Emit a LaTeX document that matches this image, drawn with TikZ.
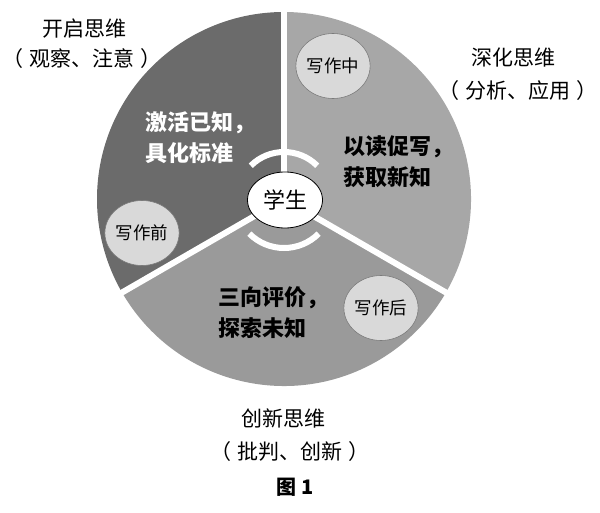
\documentclass[tikz,border=0pt]{standalone}
\usepackage{fontspec}
\setmainfont{Noto Sans CJK SC}
\usetikzlibrary{shapes.geometric,calc}
\definecolor{darksec}{HTML}{6B6B6B}
\definecolor{rightsec}{HTML}{A7A7A7}
\definecolor{botsec}{HTML}{9A9A9A}
\definecolor{smallfill}{HTML}{D9D9D9}
\definecolor{smalledge}{HTML}{7A7A7A}
\newcommand{\pl}{（\hspace{6pt}}
\newcommand{\pr}{\hspace{6pt}）}
\begin{document}
\begin{tikzpicture}[x=1pt,y=1pt,
  divider/.style={white,line width=6pt},
  turnarc/.style={white,line width=6pt},
  stagebox/.style={ellipse,fill=smallfill,draw=smalledge,line width=0.6pt,minimum width=71pt,minimum height=65pt,inner sep=0pt,font=\fontsize{17.5}{20}\selectfont},
  lbl/.style={font=\fontsize{21}{24}\selectfont,inner sep=0pt},
  inner/.style={font=\fontsize{22}{31}\selectfont\bfseries,align=left,inner sep=0pt,anchor=west}]
\useasboundingbox (0,0) rectangle (600,512);
\coordinate (C) at (284,313);
% sectors
\fill[darksec] (C) -- ++(90:187) arc (90:210:187) -- cycle;
\fill[rightsec] (C) -- ++(-30:187) arc (-30:90:187) -- cycle;
\fill[botsec] (C) -- ++(210:187) arc (210:330:187) -- cycle;
% dividers
\draw[divider] (C) -- ++(90:190);
\draw[divider] (C) -- ++(210:190);
\draw[divider] (C) -- ++(330:190);
% turning arcs
\draw[turnarc] ($(C)+(45:47)$) arc (45:135:47);
\draw[turnarc] ($(C)+(225:49)$) arc (225:315:49);
% centre
\node[ellipse,draw=black,line width=0.8pt,fill=white,minimum width=75pt,minimum height=56pt,inner sep=0pt,font=\fontsize{22}{24}\selectfont] (stu) at (285,312) {学生};
% stage circles
\node[stagebox] (before) at (142,279) {写作前};
\node[stagebox] (during) at (333,446) {写作中};
\node[stagebox] (after) at (381,204) {写作后};
% inner texts
\node[inner,text=white] (t1) at (145,374) {激活已知，\\具化标准};
\node[inner,text=black] (t2) at (343,350) {以读促写，\\获取新知};
\node[inner,text=black] (t3) at (218,199) {三向评价，\\探索未知};
% outer labels
\node[lbl] (l1a) at (84,483) {开启思维};
\node[lbl] (l1b) at (82,453) {\pl 观察、注意\pr};
\node[lbl] (l2a) at (513,454) {深化思维};
\node[lbl] (l2b) at (518,421) {\pl 分析、应用\pr};
\node[lbl] (l3a) at (283,94) {创新思维};
\node[lbl] (l3b) at (290,60) {\pl 批判、创新\pr};
\node[font=\fontsize{20}{22}\selectfont\bfseries,inner sep=0pt] (cap) at (295,25) {图\hspace{5pt}1};
\end{tikzpicture}
\end{document}
